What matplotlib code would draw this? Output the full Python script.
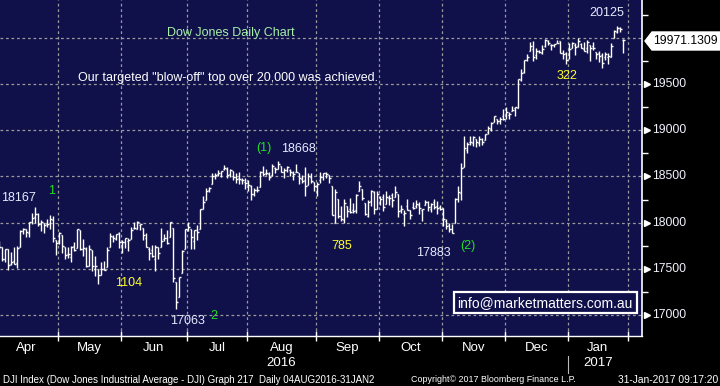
import numpy as np
import pandas as pd
import matplotlib
matplotlib.use("Agg")
import matplotlib.pyplot as plt
from matplotlib.patches import Polygon, Rectangle
from matplotlib.collections import LineCollection
from matplotlib.transforms import blended_transform_factory

# ---------------- data (DJIA daily OHLC) ----------------
holidays = ["2016-05-30", "2016-07-04", "2016-09-05", "2016-11-24",
            "2016-12-26", "2017-01-02", "2017-01-16"]
axis_dates = pd.bdate_range("2016-04-01", "2017-02-01")
axis_dates = axis_dates[~axis_dates.isin(pd.to_datetime(holidays))]

opens = [
    # Apr
    17651, 17792, 17736, 17605, 17715, 17549, 17586, 17562, 17741, 17906, 17926, 17890, 18012, 18060, 18092, 17985, 17991, 17980, 17997, 18024, 17813,
    # May
    17783, 17869, 17735, 17664, 17626, 17743, 17726, 17920, 17712, 17711, 17531, 17701, 17501, 17501, 17437, 17500, 17525, 17736, 17844, 17826, 17891,
    # Jun
    17755, 17790, 17799, 17826, 17939, 17931, 17969, 17938, 17830, 17710, 17703, 17602, 17733, 17736, 17827, 17832, 17844, 17946, 17355, 17190, 17456, 17713,
    # Jul
    17924, 17931, 17800, 17924, 17931, 18146, 18249, 18358, 18418, 18508, 18531, 18503, 18575, 18582, 18524, 18554, 18491, 18483, 18466, 18443,
    # Aug
    18434, 18400, 18313, 18356, 18380, 18546, 18535, 18526, 18515, 18595, 18582, 18617, 18553, 18564, 18573, 18542, 18553, 18541, 18467, 18460, 18405, 18490, 18436,
    # Sep
    18396, 18462, 18492, 18539, 18515, 18393, 18001, 18256, 18072, 18025, 18183, 18143, 18138, 18137, 18339, 18367, 18213, 18074, 18229, 18332, 18149,
    # Oct
    18279, 18274, 18205, 18267, 18295, 18282, 18308, 18132, 18088, 18177, 18132, 18167, 18180, 18190, 18133, 18187, 18223, 18150, 18220, 18176, 18172,
    # Nov
    18158, 18018, 17979, 17928, 17995, 18251, 18317, 18603, 18782, 18876, 18858, 18909, 18866, 18905, 18898, 18985, 19017, 19094, 19121, 19103, 19150,
    # Dec
    19150, 19163, 19209, 19244, 19243, 19547, 19631, 19757, 19852, 19876, 19811, 19856, 19836, 19909, 19966, 19918, 19923, 19944, 19964, 19836, 19833,
    # Jan
    19872, 19891, 19924, 19906, 19931, 19876, 19887, 19926, 19912, 19849, 19840, 19814, 19795, 19794, 19795, 19994, 20067, 20102, 19975,
]
highs = [
    17804, 17806, 17736, 17717, 17715, 17684, 17731, 17746, 17918, 17944, 17931, 18009, 18103, 18168, 18107, 18026, 17994, 18043, 18084, 18075, 17814,
    17899, 17869, 17738, 17736, 17744, 17791, 17934, 17920, 17821, 17734, 17755, 17701, 17640, 17501, 17571, 17590, 17733, 17891, 17863, 17880, 17899,
    17809, 17838, 17837, 17949, 18003, 18016, 17989, 17938, 17893, 17733, 17762, 17754, 17733, 17946, 17877, 17920, 18011, 17946, 17355, 17410, 17704, 17930,
    18003, 17931, 17920, 17975, 18146, 18283, 18371, 18388, 18537, 18537, 18565, 18563, 18622, 18604, 18580, 18561, 18533, 18548, 18484, 18483,
    18464, 18408, 18377, 18394, 18555, 18614, 18584, 18543, 18636, 18600, 18668, 18617, 18587, 18617, 18575, 18560, 18633, 18541, 18517, 18600, 18537, 18538, 18441,
    18441, 18548, 18539, 18553, 18515, 18393, 18369, 18256, 18179, 18253, 18183, 18263, 18208, 18312, 18449, 18367, 18213, 18247, 18356, 18339, 18338,
    18286, 18313, 18340, 18302, 18320, 18400, 18312, 18193, 18136, 18251, 18132, 18227, 18249, 18224, 18145, 18247, 18235, 18211, 18254, 18234, 18193,
    18158, 18037, 18000, 17987, 18263, 18400, 18650, 18934, 18870, 18935, 18936, 18910, 18935, 18915, 18960, 19043, 19084, 19153, 19122, 19140, 19226,
    19249, 19198, 19264, 19252, 19550, 19661, 19757, 19826, 19953, 19967, 19888, 19869, 19917, 19988, 19973, 19933, 19934, 19981, 19964, 19872, 19843,
    19939, 19957, 19948, 20000, 19943, 19957, 19974, 19926, 19951, 19849, 19860, 19834, 19843, 19833, 19949, 20080, 20125, 20116, 19990,
]
lows = [
    17584, 17712, 17590, 17572, 17484, 17537, 17551, 17510, 17741, 17878, 17849, 17848, 17984, 17992, 17963, 17909, 17887, 17948, 17934, 17792, 17652,
    17773, 17670, 17609, 17615, 17571, 17691, 17726, 17707, 17639, 17516, 17531, 17480, 17418, 17331, 17437, 17486, 17525, 17736, 17790, 17807, 17724,
    17666, 17729, 17689, 17822, 17936, 17931, 17915, 17812, 17731, 17595, 17629, 17471, 17602, 17736, 17799, 17770, 17844, 17357, 17063, 17190, 17456, 17711,
    17913, 17714, 17713, 17816, 17931, 18146, 18249, 18330, 18418, 18469, 18507, 18490, 18565, 18478, 18493, 18466, 18433, 18423, 18414, 18360,
    18344, 18249, 18289, 18335, 18380, 18507, 18516, 18465, 18506, 18540, 18582, 18548, 18484, 18550, 18500, 18459, 18548, 18418, 18433, 18287, 18405, 18425, 18347,
    18283, 18426, 18457, 18486, 18434, 18085, 17992, 18055, 18018, 18000, 18065, 18102, 18104, 18105, 18339, 18244, 18083, 18062, 18183, 18097, 18149,
    18194, 18123, 18205, 18191, 18167, 18282, 18063, 18100, 17959, 18136, 18043, 18152, 18162, 18097, 18019, 18186, 18130, 18120, 18144, 18096, 18140,
    17959, 17931, 17894, 17884, 17995, 18220, 18250, 18603, 18751, 18838, 18829, 18820, 18826, 18845, 18898, 18962, 18991, 19085, 19072, 19064, 19114,
    19121, 19126, 19209, 19155, 19240, 19532, 19616, 19749, 19852, 19748, 19767, 19831, 19823, 19898, 19917, 19873, 19899, 19939, 19833, 19768, 19718,
    19775, 19891, 19811, 19899, 19887, 19855, 19833, 19745, 19873, 19775, 19737, 19678, 19760, 19720, 19788, 19994, 20050, 20063, 19840,
]
closes = [
    17793, 17737, 17603, 17716, 17542, 17577, 17556, 17721, 17908, 17926, 17897, 18004, 18053, 18096, 17982, 18003, 17977, 17990, 18041, 17831, 17774,
    17891, 17751, 17651, 17661, 17740, 17705, 17928, 17711, 17721, 17535, 17711, 17530, 17526, 17436, 17501, 17492, 17706, 17851, 17829, 17873, 17787,
    17790, 17838, 17807, 17920, 17938, 18005, 17985, 17865, 17733, 17675, 17640, 17733, 17675, 17805, 17830, 17780, 18011, 17400, 17140, 17410, 17695, 17930,
    17949, 17841, 17919, 17896, 18147, 18227, 18347, 18372, 18506, 18517, 18534, 18559, 18595, 18517, 18571, 18493, 18474, 18473, 18456, 18432,
    18404, 18314, 18355, 18353, 18543, 18529, 18533, 18495, 18613, 18576, 18636, 18552, 18574, 18598, 18553, 18530, 18548, 18482, 18448, 18395, 18503, 18454, 18401,
    18420, 18492, 18538, 18526, 18480, 18085, 18326, 18067, 18034, 18212, 18124, 18120, 18130, 18294, 18392, 18261, 18094, 18228, 18339, 18143, 18308,
    18254, 18168, 18281, 18269, 18240, 18329, 18129, 18144, 18099, 18138, 18087, 18162, 18203, 18162, 18145, 18223, 18169, 18199, 18170, 18161, 18142,
    18037, 17960, 17931, 17888, 18260, 18332, 18590, 18808, 18848, 18869, 18924, 18868, 18904, 18868, 18957, 19024, 19083, 19153, 19098, 19122, 19124,
    19192, 19171, 19217, 19252, 19549, 19615, 19757, 19797, 19911, 19792, 19853, 19843, 19884, 19975, 19942, 19919, 19934, 19946, 19834, 19820, 19763,
    19882, 19942, 19899, 19964, 19887, 19855, 19954, 19892, 19886, 19826, 19804, 19732, 19827, 19799, 19913, 20069, 20101, 20094, 19971,
]

month_labels = ["Apr", "May", "Jun", "Jul", "Aug", "Sep", "Oct", "Nov", "Dec", "Jan"]
year_labels = ["2016", "2017"]
y_major = [17000, 17500, 18000, 18500, 19000, 19500]
y_minor = [17250, 17750, 18250, 18750, 19250, 19750, 20250]
y_grid = [17000, 17500, 18000, 18500, 19000, 19500, 20000]
last_price = "19971.1309"

# ---------------- figure ----------------
W, H = 720, 386
NAVY = "#10104b"
fig = plt.figure(figsize=(W / 100, H / 100), dpi=100, facecolor="black")
ax = fig.add_axes([0, (H - 336) / H, 642 / W, 336 / H])
ax.set_facecolor(NAVY)

n = len(closes)
x = np.arange(n)
segs = []
tk = 0.55
for i in range(n):
    segs.append([(x[i], lows[i]), (x[i], highs[i])])
    segs.append([(x[i] - tk, opens[i]), (x[i], opens[i])])
    segs.append([(x[i], closes[i]), (x[i] + tk, closes[i])])
ax.add_collection(LineCollection(segs, colors="white", linewidths=1.0, zorder=3))

# month boundaries
months = axis_dates.month
bounds = [i - 0.5 for i in range(1, len(axis_dates)) if months[i] != months[i - 1]]
starts = [-0.5] + bounds
mids = [(starts[k] + starts[k + 1]) / 2 for k in range(len(starts) - 1)]

ax.set_xlim(1.2, 215.2)
ax.set_ylim(16773, 20409)

grid_kw = dict(color="#9a9a9a", lw=0.9, ls=(0, (2.2, 2.2)), zorder=1)
for b in bounds:
    ax.axvline(b, **grid_kw)
for g in y_grid:
    ax.axhline(g, **grid_kw)

for s in ["left", "top"]:
    ax.spines[s].set_visible(False)
ax.spines["right"].set_color("white")
ax.spines["right"].set_linewidth(1.2)
ax.spines["bottom"].set_color("white")
ax.spines["bottom"].set_linewidth(1.0)

ax.set_xticks(bounds)
ax.set_xticklabels([])
ax.tick_params(axis="x", direction="inout", length=7, width=1, colors="white")

ax.yaxis.tick_right()
ax.set_yticks(y_major)
ax.set_yticklabels([])
ax.set_yticks(y_minor, minor=True)
ax.tick_params(axis="y", which="major", length=0)
ax.tick_params(axis="y", which="minor", length=4, width=1, colors="white", direction="out")

tr_y = blended_transform_factory(ax.transAxes, ax.transData)
ax.plot([1 + 5 / 642] * len(y_major), y_major, ls="none", marker=">", ms=5,
        color="white", transform=tr_y, clip_on=False)
for v in y_major:
    ax.text(1 + 10 / 642, v, str(v), transform=tr_y, va="center", ha="left",
            fontsize=8.8, color="#f2f2ff", family="Liberation Sans")

tr_x = blended_transform_factory(ax.transData, ax.transAxes)
lf = "Liberation Sans"
for m, lab in zip(mids, month_labels):
    ax.text(m, -12 / 336, lab, transform=tr_x, ha="center", va="center",
            fontsize=9.5, color="white", family=lf)
# year labels under Aug and Jan
ax.text(mids[4], -27 / 336, year_labels[0], transform=tr_x, ha="center", va="center",
        fontsize=9.5, color="white", family=lf)
ax.text(mids[9], -27 / 336, year_labels[1], transform=tr_x, ha="center", va="center",
        fontsize=9.5, color="white", family=lf)


def F(px, py):
    return (px / W, 1 - py / H)


# year separator
fig.add_artist(plt.Line2D([568 / W, 568 / W], [1 - 356 / H, 1 - 373 / H],
                          color="#bbbbbb", lw=0.8, transform=fig.transFigure))

# footer
ff = "Liberation Sans"
fig.text(*F(3, 380), "DJI Index (Dow Jones Industrial Average - DJI) Graph 217  Daily 04AUG2016-31JAN2",
         ha="left", va="center", fontsize=7.0, color="white", family=ff)
fig.text(*F(411, 380), "Copyright\u00a9 2017 Bloomberg Finance L.P.",
         ha="left", va="center", fontsize=6.4, color="white", family=ff)
fig.text(*F(718, 380), "31-Jan-2017 09:17:20",
         ha="right", va="center", fontsize=7.4, color="white", family=ff)

# last price tag
tag = Polygon([F(645, 41), F(652, 32), F(720, 32), F(720, 50), F(652, 50)],
              closed=True, fc="white", ec="white", transform=fig.transFigure)
fig.add_artist(tag)
fig.text(*F(653, 41), last_price, ha="left", va="center", fontsize=8.8,
         color="black", family="Liberation Sans")

# annotations
af = "Liberation Sans"
WH = "#e6ecff"
GR = "#22e022"
YL = "#ffff30"
notes = [
    ("Dow Jones Daily Chart", 231, 33, "#a8f0a8", 9),
    ("Our targeted \"blow-off\" top over 20,000 was achieved.", 228, 78, "white", 9),
    ("20125", 607, 13, WH, 9),
    ("18167", 19, 198, WH, 9),
    ("1", 52, 191, GR, 9),
    ("1104", 129, 283, YL, 9),
    ("17063", 187, 321, WH, 9),
    ("2", 214, 316, GR, 9),
    ("(1)", 264, 148, GR, 9),
    ("18668", 298, 149, WH, 9),
    ("785", 342, 246, YL, 9),
    ("17883", 433, 253, WH, 9),
    ("(2)", 468, 246, GR, 9),
    ("322", 567, 76, YL, 9),
]
for t, px, py, c, fs in notes:
    fig.text(*F(px, py), t, ha="center", va="center", fontsize=fs, color=c, family=af)

box = Rectangle(F(454, 313), 183 / W, 21 / H, transform=fig.transFigure,
                fc=NAVY, ec="white", lw=1.6)
fig.add_artist(box)
fig.text(*F(545, 303), "info@marketmatters.com.au", ha="center", va="center",
         fontsize=10, color="white", family=af)

fig.savefig("out.png", dpi=100, facecolor="black")
